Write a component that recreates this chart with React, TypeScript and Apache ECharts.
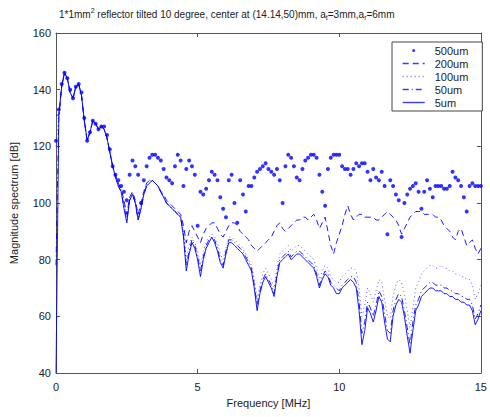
import React, { useEffect, useRef } from "react";
import * as echarts from "echarts";

const FREQ_STEP = 0.1;
const X_MIN = 0;
const X_MAX = 15;
const X_INTERVAL = 5;
const Y_MIN = 40;
const Y_MAX = 160;
const Y_INTERVAL = 20;

const NAMES = ["500um", "200um", "100um", "50um", "5um"];

// 500um (dots)
const V500 = [
  122, 133, 142, 146, 144, 140, 137, 141, 142, 139,
  130, 122, 125, 129, 128, 126, 127, 127, 124, 119,
  113, 110, 108, 106, 104, 101, 110, 115, 113, 110,
  100, 108, 113, 116, 117, 117, 116, 115, 112, 109,
  108, 107, 113, 117, 115, 106, 112, 115, 113, 110,
  92, 104, 103, 105, 108, 111, 110, 108, 102, 98,
  95, 108, 110, 100, 93, 108, 103, 97, 106, 106,
  109, 111, 112, 113, 114, 112, 111, 110, 112, 108,
  100, 113, 117, 116, 113, 109, 108, 112, 115, 116,
  117, 117, 116, 110, 104, 99, 112, 116, 117, 117,
  117, 113, 112, 112, 110, 112, 114, 113, 114, 114,
  111, 108, 112, 109, 108, 111, 106, 89, 108, 106,
  103, 101, 88, 100, 103, 105, 106, 107, 104, 98,
  104, 108, 105, 102, 106, 106, 106, 105, 105, 106,
  111, 109, 108, 106, 102, 97, 106, 107, 106, 106,
  106,
];

// 200um (dashed)
const V200 = [
  131, 131, 141, 146, 144, 139, 137, 141, 142, 138,
  129, 122, 125, 129, 128, 126, 127, 126, 123, 118,
  113, 110, 107, 105, 101, 96, 102, 104, 101, 96,
  100, 104, 107, 108, 108, 107, 106, 104, 103, 101,
  100, 99, 98, 97, 96, 92, 86, 90, 92, 90,
  88, 86, 89, 91, 92, 93, 93, 91, 89, 88,
  90, 92, 93, 93, 92, 90, 89, 88, 87, 85,
  84, 83, 84, 85, 86, 87, 88, 90, 92, 93,
  91, 90, 91, 92, 93, 94, 94, 95, 95, 94,
  95, 96, 94, 91, 93, 95, 90, 85, 82, 86,
  89, 92, 96, 99, 96, 94, 95, 96, 96, 95,
  95, 95, 95, 94, 94, 95, 96, 97, 96, 95,
  94, 92, 89, 91, 93, 95, 96, 97, 97, 97,
  96, 96, 96, 96, 95, 95, 94, 92, 91, 90,
  88, 87, 90, 91, 88, 85, 86, 87, 84, 82,
  84,
];

// 100um (dotted)
const V100 = [
  120, 131, 141, 146, 144, 139, 137, 141, 142, 138,
  129, 122, 125, 129, 128, 126, 127, 126, 123, 118,
  113, 110, 107, 105, 100, 95, 102, 104, 100, 95,
  99, 104, 107, 108, 108, 107, 106, 104, 102, 100,
  99, 98, 97, 96, 95, 90, 80, 85, 88, 86,
  83, 78, 83, 86, 88, 89, 88, 86, 82, 80,
  84, 88, 88, 87, 86, 85, 84, 82, 80, 78,
  73, 66, 71, 75, 77, 75, 73, 70, 77, 82,
  83, 84, 85, 83, 84, 85, 85, 84, 83, 82,
  81, 80, 77, 73, 76, 78, 77, 74, 73, 72,
  72, 74, 75, 76, 77, 77, 76, 70, 60, 64,
  70, 68, 65, 69, 73, 72, 66, 60, 59, 67,
  71, 73, 72, 68, 62, 56, 63, 70, 72, 75,
  76, 77, 78, 78, 77, 77, 78, 77, 77, 76,
  76, 75, 75, 74, 74, 73, 73, 71, 66, 68,
  71,
];

// 50um (dash-dot)
const V50 = [
  78, 131, 141, 146, 144, 139, 137, 141, 142, 138,
  129, 122, 125, 129, 128, 126, 127, 126, 123, 118,
  113, 109, 106, 104, 99, 94, 101, 103, 100, 94,
  98, 103, 106, 107, 108, 107, 106, 104, 102, 100,
  99, 98, 97, 96, 95, 89, 78, 83, 87, 85,
  81, 76, 81, 85, 87, 88, 87, 84, 80, 78,
  83, 87, 87, 86, 85, 84, 83, 81, 79, 77,
  71, 64, 69, 73, 75, 73, 71, 68, 75, 80,
  81, 82, 83, 81, 82, 83, 83, 82, 81, 80,
  79, 78, 75, 71, 74, 76, 75, 72, 71, 70,
  69, 71, 72, 73, 74, 74, 72, 65, 54, 58,
  65, 63, 60, 64, 69, 67, 61, 55, 54, 62,
  66, 68, 67, 62, 56, 50, 58, 64, 66, 69,
  70, 71, 72, 72, 71, 71, 71, 70, 70, 69,
  69, 68, 68, 67, 67, 66, 66, 64, 59, 61,
  64,
];

// 5um (solid)
const V5 = [
  40, 131, 141, 146, 144, 139, 137, 141, 142, 138,
  129, 122, 125, 129, 128, 126, 127, 126, 123, 118,
  113, 109, 106, 104, 98, 93, 101, 103, 100, 94,
  98, 103, 106, 107, 108, 107, 106, 104, 102, 100,
  99, 98, 97, 96, 95, 88, 76, 82, 86, 84,
  80, 74, 80, 84, 86, 88, 86, 83, 79, 77,
  82, 86, 86, 85, 84, 83, 82, 80, 78, 76,
  70, 62, 68, 72, 74, 72, 70, 67, 74, 79,
  80, 81, 82, 80, 81, 82, 82, 81, 80, 79,
  78, 77, 74, 70, 73, 75, 74, 71, 70, 68,
  68, 70, 71, 72, 73, 72, 70, 62, 50, 55,
  63, 61, 58, 62, 67, 65, 58, 52, 51, 60,
  64, 66, 65, 60, 53, 47, 55, 62, 64, 67,
  68, 69, 70, 70, 69, 69, 69, 68, 68, 67,
  67, 66, 66, 65, 65, 64, 64, 62, 57, 59,
  62,
];

const BLUE = "#0000ff";
const LEGEND_BLUE = "#3c3cff";
const FONT = "'Liberation Sans', Arial, sans-serif";
const TEXT = "#222";
const AXIS = "#555";

const DASH_200 = [6, 4];
const DASH_100 = [1, 3];
const DASH_50 = [6, 3, 1, 3];

function toPairs(vals: number[]) {
  return vals.map((v, i) => [Math.round(i * FREQ_STEP * 10) / 10, v]);
}

export default function App() {
  const ref = useRef<HTMLDivElement>(null);

  useEffect(() => {
    if (!ref.current) return;
    const chart = echarts.init(ref.current, null, { renderer: "svg" });
    const axisCommon = {
      axisLine: { show: true, onZero: false, lineStyle: { color: AXIS, width: 1 } },
      axisTick: { show: true, inside: true, length: 4, lineStyle: { color: AXIS } },
      splitLine: { show: false },
    };
    const hideSym = { opacity: 0 };
    chart.setOption({
      animation: false,
      backgroundColor: "#fff",
      textStyle: { fontFamily: FONT },
      title: {
        text: "1*1mm{sup|2} reflector tilted 10 degree, center at (14.14,50)mm, a{sub|t}=3mm,a{sub|r}=6mm",
        left: 54,
        top: 2,
        textStyle: {
          fontSize: 10,
          fontWeight: "normal",
          color: TEXT,
          fontFamily: FONT,
          lineHeight: 14,
          rich: {
            sup: { fontSize: 7, lineHeight: 8, verticalAlign: "top", color: TEXT, fontFamily: FONT },
            sub: { fontSize: 7, lineHeight: 8, verticalAlign: "bottom", color: TEXT, fontFamily: FONT },
          },
        },
      },
      legend: {
        orient: "vertical",
        left: 392,
        top: 42,
        data: [
          { name: "500um", icon: "path://M0,0M22,10M9.5,5a1.5,1.5 0 1 0 3,0a1.5,1.5 0 1 0 -3,0z" },
          { name: "200um", itemStyle: hideSym, lineStyle: { width: 1.4, color: LEGEND_BLUE, type: DASH_200 } },
          { name: "100um", itemStyle: hideSym, lineStyle: { width: 1.4, color: LEGEND_BLUE, type: DASH_100 } },
          { name: "50um", itemStyle: hideSym, lineStyle: { width: 1.4, color: LEGEND_BLUE, type: DASH_50 } },
          { name: "5um", itemStyle: hideSym, lineStyle: { width: 1.4, color: LEGEND_BLUE, type: "solid" } },
        ],
        itemWidth: 22,
        itemHeight: 10,
        itemGap: 2,
        padding: [3, 14, 3, 10],
        borderColor: "#444",
        borderWidth: 1,
        backgroundColor: "#fff",
        textStyle: { fontSize: 11, color: TEXT, fontFamily: FONT, padding: [0, 0, 0, 5] },
      },
      grid: { left: 56, right: 4, top: 33, bottom: 44, containLabel: false },
      xAxis: [
        {
          type: "value",
          min: X_MIN,
          max: X_MAX,
          interval: X_INTERVAL,
          name: "Frequency [MHz]",
          nameLocation: "middle",
          nameGap: 24,
          nameTextStyle: { fontSize: 11, color: TEXT, fontFamily: FONT },
          axisLabel: { fontSize: 11, color: TEXT, margin: 8, fontFamily: FONT },
          ...axisCommon,
        },
        {
          type: "value",
          position: "top",
          min: X_MIN,
          max: X_MAX,
          interval: X_INTERVAL,
          axisLabel: { show: false },
          ...axisCommon,
        },
      ],
      yAxis: [
        {
          type: "value",
          min: Y_MIN,
          max: Y_MAX,
          interval: Y_INTERVAL,
          name: "Magnitude spectrum [dB]",
          nameLocation: "middle",
          nameGap: 37,
          nameTextStyle: { fontSize: 11, color: TEXT, fontFamily: FONT },
          axisLabel: { fontSize: 11, color: TEXT, margin: 5, fontFamily: FONT },
          ...axisCommon,
        },
        {
          type: "value",
          position: "right",
          min: Y_MIN,
          max: Y_MAX,
          interval: Y_INTERVAL,
          axisLabel: { show: false },
          ...axisCommon,
        },
      ],
      series: [
        {
          name: NAMES[0],
          type: "scatter",
          data: toPairs(V500),
          symbol: "circle",
          symbolSize: 4,
          itemStyle: { color: BLUE },
          z: 10,
        },
        {
          name: NAMES[1],
          type: "line",
          data: toPairs(V200),
          symbol: "none",
          lineStyle: { color: BLUE, width: 0.9, type: DASH_200 },
          itemStyle: { color: BLUE },
        },
        {
          name: NAMES[2],
          type: "line",
          data: toPairs(V100),
          symbol: "none",
          lineStyle: { color: BLUE, width: 0.9, type: DASH_100, opacity: 0.7 },
          itemStyle: { color: BLUE },
        },
        {
          name: NAMES[3],
          type: "line",
          data: toPairs(V50),
          symbol: "none",
          lineStyle: { color: BLUE, width: 0.9, type: DASH_50 },
          itemStyle: { color: BLUE },
        },
        {
          name: NAMES[4],
          type: "line",
          data: toPairs(V5),
          symbol: "none",
          lineStyle: { color: BLUE, width: 0.9, type: "solid" },
          itemStyle: { color: BLUE },
        },
      ],
    });
    return () => chart.dispose();
  }, []);

  return (
    <div
      ref={ref}
      style={{ position: "absolute", left: 0, top: 0, width: 490, height: 417, background: "#fff" }}
    />
  );
}
